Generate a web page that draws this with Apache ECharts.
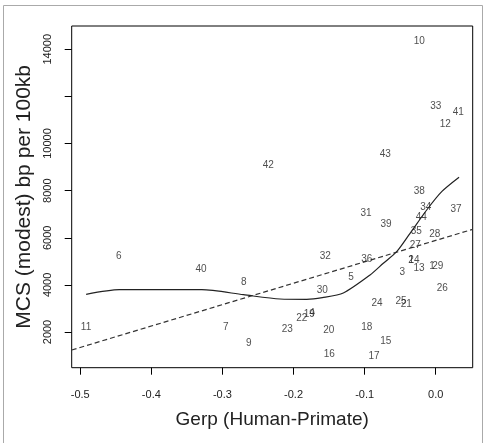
<!DOCTYPE html>
<html>
<head>
<meta charset="utf-8">
<script src="https://cdn.jsdelivr.net/npm/echarts@6/dist/echarts.min.js"></script>
<style>
html,body{margin:0;padding:0;background:#fff;}
#c{width:486px;height:443px;}
</style>
</head>
<body>
<div id="c"></div>
<script>
// Point labels (gene region ids), Gerp values and MCS values
var ids  = ['10','33','41','12','43','42','38','34','37','31','44','39','35','28','27','32','36','14','2','13','1','29','3','5','26','30','24','25','21','22','19','4','23','20','18','15','16','17','6','40','8','11','7','9'];
var gerp = [-0.0231,0.0000,0.0318,0.0135,-0.0709,-0.2354,-0.0231,-0.0141,0.0286,-0.0980,-0.0203,-0.0699,-0.0273,-0.0014,-0.0287,-0.1553,-0.0970,-0.0305,-0.0347,-0.0235,-0.0052,0.0028,-0.0470,-0.1191,0.0093,-0.1595,-0.0826,-0.0488,-0.0414,-0.1885,-0.1778,-0.1740,-0.2087,-0.1505,-0.0970,-0.0703,-0.1496,-0.0868,-0.4459,-0.3301,-0.2700,-0.4918,-0.2954,-0.2630];
var mcs  = [14351,11593,11308,10816,9542,9059,7955,7293,7208,7038,6868,6584,6274,6160,5693,5226,5086,5026,5056,4687,4801,4789,4517,4305,3855,3783,3218,3303,3159,2594,2764,2806,2115,2085,2199,1618,1066,952,5226,4674,4122,2212,2212,1520];

// Loess smooth (solid line)
var loessX = [-0.4917,-0.445,-0.329,-0.2706,-0.219,-0.1814,-0.1595,-0.130,-0.0924,-0.0737,-0.0549,-0.0361,-0.0127,0.0084,0.0328];
var loessY = [3600,3795,3795,3583,3401,3388,3460,3655,4419,4916,5408,6189,7178,7955,8566];

// Linear regression (dashed line) endpoints
var regX = [-0.512, 0.052];
var regY = [1236, 6359];

// Axis ticks
var xTicks = [-0.5,-0.4,-0.3,-0.2,-0.1,0.0];
var xTickLabels = ['-0.5','-0.4','-0.3','-0.2','-0.1','0.0'];
var yTicks = [2000,4000,6000,8000,10000,12000,14000];
var yTickLabels = [2000,4000,6000,8000,10000,14000];

var FONT = 'Liberation Sans, Arial, Helvetica, sans-serif';
var TXT = '#222';

var pts = ids.map(function(id,i){ return {name:id, value:[gerp[i], mcs[i]]}; });
var loess = loessX.map(function(x,i){ return [x, loessY[i]]; });
var reg = regX.map(function(x,i){ return [x, regY[i]]; });

var chart = echarts.init(document.getElementById('c'), null, {renderer:'canvas'});
chart.setOption({
  animation:false,
  backgroundColor:'#fff',
  graphic:[{type:'rect', shape:{x:3.5,y:5.5,width:479,height:450}, style:{fill:'none',stroke:'#aaa',lineWidth:1}, silent:true}],
  grid:{left:71.7, right:13.3, top:26, bottom:75.3, show:true, borderColor:'#000', borderWidth:1, backgroundColor:'transparent'},
  xAxis:{
    type:'value', min:-0.512, max:0.052,
    name:'Gerp (Human-Primate)', nameLocation:'middle', nameGap:43,
    nameTextStyle:{fontFamily:FONT, fontSize:19, color:TXT},
    axisLine:{show:false, onZero:false},
    splitLine:{show:false},
    axisTick:{show:true, inside:false, length:7, lineStyle:{color:'#000'}, customValues:xTicks},
    axisLabel:{fontFamily:FONT, fontSize:11, color:TXT, margin:22, customValues:xTicks,
      formatter:function(v){ var i=xTicks.indexOf(v); return i>=0? xTickLabels[i] : ''; }}
  },
  yAxis:{
    type:'value', min:485, max:14988,
    name:'MCS (modest) bp per 100kb', nameLocation:'middle', nameGap:36,
    nameTextStyle:{fontFamily:FONT, fontSize:21, color:TXT},
    axisLine:{show:false, onZero:false},
    splitLine:{show:false},
    axisTick:{show:true, inside:false, length:7, lineStyle:{color:'#000'}, customValues:yTicks},
    axisLabel:{fontFamily:FONT, fontSize:11, color:TXT, margin:18, rotate:90, customValues:yTickLabels,
      formatter:function(v){ return String(v); }}
  },
  series:[
    {type:'line', data:reg, showSymbol:false, symbol:'none', lineStyle:{color:'#333', width:1.2, type:[5,3]}, silent:true, z:2},
    {type:'line', data:loess, showSymbol:false, symbol:'none', smooth:0.25, lineStyle:{color:'#222', width:1.2}, silent:true, z:2},
    {type:'scatter', data:pts, symbolSize:1, itemStyle:{color:'rgba(0,0,0,0)'}, silent:true, z:3,
      label:{show:true, position:'inside', formatter:'{b}', fontFamily:FONT, fontSize:10, color:TXT}}
  ]
});
</script>
</body>
</html>
